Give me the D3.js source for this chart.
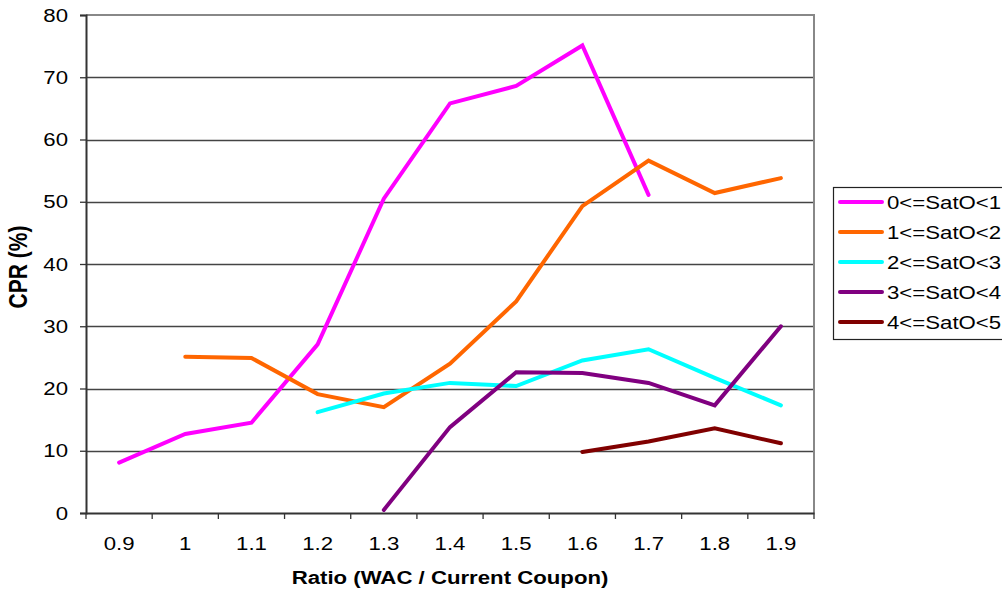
<!DOCTYPE html>
<html>
<head>
<meta charset="utf-8">
<script src="https://cdn.jsdelivr.net/npm/d3@7"></script>
<style>
  html, body { margin: 0; padding: 0; background: #fff; }
  svg { display: block; }
  text { font-family: "Liberation Sans", Arial, sans-serif; fill: #000; }
</style>
</head>
<body>
<svg id="chart" width="1002" height="593"></svg>
<script>
const categories = ["0.9", "1", "1.1", "1.2", "1.3", "1.4", "1.5", "1.6", "1.7", "1.8", "1.9"];
const yTicks = [0, 10, 20, 30, 40, 50, 60, 70, 80];
const seriesNames = ["0<=SatO<1", "1<=SatO<2", "2<=SatO<3", "3<=SatO<4", "4<=SatO<5"];
const seriesColors = ["#FF00FF", "#FF6600", "#00FFFF", "#800080", "#800000"];
const sat0 = [8.1, 12.7, 14.5, 27.1, 50.5, 65.8, 68.6, 75.1, 51.1, null, null];
const sat1 = [null, 25.1, 24.9, 19.1, 17.0, 24.0, 34.0, 49.3, 56.6, 51.4, 53.8];
const sat2 = [null, null, null, 16.2, 19.2, 20.9, 20.4, 24.5, 26.3, 21.7, 17.3];
const sat3 = [null, null, null, null, 0.5, 13.8, 22.6, 22.5, 20.9, 17.3, 30.0];
const sat4 = [null, null, null, null, null, null, null, 9.8, 11.5, 13.6, 11.2];
const seriesValues = [sat0, sat1, sat2, sat3, sat4];

const SX = 1.2; // horizontal stretch of text in reference
const svg = d3.select("#chart");
const plot = { left: 86, right: 814, top: 15, bottom: 513 };

const x = d3.scaleBand().domain(categories).range([plot.left, plot.right]).padding(0);
const y = d3.scaleLinear().domain([0, 80]).range([plot.bottom, plot.top]);

// gridlines
svg.append("g").selectAll("line").data(yTicks.filter(d => d > 0 && d < 80)).join("line")
  .attr("x1", plot.left).attr("x2", plot.right)
  .attr("y1", d => Math.round(y(d)) + 0.5).attr("y2", d => Math.round(y(d)) + 0.5)
  .attr("stroke", "#444").attr("stroke-width", 1.3);

// top and right border (gray)
svg.append("path")
  .attr("d", `M${plot.left},${plot.top} H${plot.right} V${plot.bottom}`)
  .attr("fill", "none").attr("stroke", "#888").attr("stroke-width", 2);

// y axis
const yAxis = svg.append("g").attr("transform", `translate(${plot.left},0)`)
  .call(d3.axisLeft(y).tickValues(yTicks).tickSize(6).tickFormat(d3.format("d")));
yAxis.select(".domain").attr("stroke", "#333").attr("stroke-width", 2);
yAxis.selectAll(".tick line").attr("stroke", "#333").attr("stroke-width", 1.3);
yAxis.selectAll(".tick text").each(function() {
  const t = d3.select(this);
  t.attr("x", null).attr("dy", null)
   .attr("transform", `translate(-18,6) scale(${SX},1)`)
   .attr("text-anchor", "end")
   .style("font-size", "18.5px").style("font-family", "'Liberation Sans', Arial, sans-serif")
   .attr("fill", "#000");
});

// x axis
const xAxis = svg.append("g").attr("transform", `translate(0,${plot.bottom})`)
  .call(d3.axisBottom(x).tickSize(0).tickFormat(d => d));
xAxis.select(".domain").attr("stroke", "#333").attr("stroke-width", 2);
xAxis.selectAll(".tick text").each(function() {
  d3.select(this).attr("y", null).attr("dy", null)
   .attr("transform", `translate(0,37) scale(${SX},1)`)
   .style("font-size", "18.5px").style("font-family", "'Liberation Sans', Arial, sans-serif")
   .attr("fill", "#000");
});
// category boundary ticks
const bounds = categories.map(c => x(c)).concat([x(categories[categories.length - 1]) + x.bandwidth()]);
svg.append("g").selectAll("line").data(bounds).join("line")
  .attr("x1", d => d).attr("x2", d => d)
  .attr("y1", plot.bottom).attr("y2", plot.bottom + 6)
  .attr("stroke", "#333").attr("stroke-width", 1.3);

// axis titles
svg.append("text")
  .attr("transform", `translate(${(plot.left + plot.right) / 2},584) scale(${SX},1)`)
  .attr("text-anchor", "middle")
  .style("font-size", "18.5px").style("font-weight", "bold")
  .text("Ratio (WAC / Current Coupon)");
svg.append("text")
  .attr("transform", `translate(27,267) scale(${SX},1) rotate(-90)`)
  .attr("text-anchor", "middle")
  .style("font-size", "21px").style("font-weight", "bold")
  .text("CPR (%)");

// series lines
const line = d3.line()
  .defined(d => d.v !== null)
  .x(d => x(d.c) + x.bandwidth() / 2)
  .y(d => y(d.v));
seriesValues.forEach((vals, i) => {
  const pts = categories.map((c, j) => ({ c, v: vals[j] }));
  svg.append("path").datum(pts)
    .attr("d", line)
    .attr("fill", "none")
    .attr("stroke", seriesColors[i])
    .attr("stroke-width", 4)
    .attr("stroke-linejoin", "miter")
    .attr("stroke-linecap", "round");
});

// legend
const lg = svg.append("g");
lg.append("rect").attr("x", 833.5).attr("y", 187.5).attr("width", 200).attr("height", 152)
  .attr("fill", "#fff").attr("stroke", "#222").attr("stroke-width", 1.2);
seriesNames.forEach((name, i) => {
  const cy = 202 + i * 30;
  lg.append("line").attr("x1", 840).attr("x2", 882).attr("y1", cy).attr("y2", cy)
    .attr("stroke", seriesColors[i]).attr("stroke-width", 4).attr("stroke-linecap", "round");
  lg.append("text")
    .attr("transform", `translate(887,${cy + 7}) scale(${SX},1)`)
    .style("font-size", "18.5px")
    .text(name);
});
</script>
</body>
</html>
